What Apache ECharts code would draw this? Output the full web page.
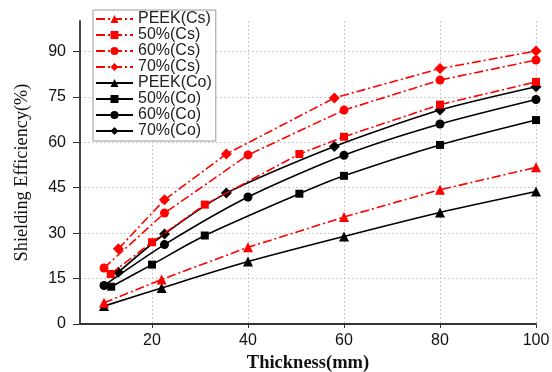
<!DOCTYPE html>
<html><head><meta charset="utf-8">
<script src="https://cdn.jsdelivr.net/npm/echarts@6/dist/echarts.min.js"></script>
<style>html,body{margin:0;padding:0;background:#fff}#c{width:552px;height:372px}</style>
</head><body><div id="c"></div>
<script>
const seriesNames = ['PEEK(Cs)','50%(Cs)','60%(Cs)','70%(Cs)','PEEK(Co)','50%(Co)','60%(Co)','70%(Co)'];
const peekCsX = [10, 22, 40, 60, 80, 100];
const peekCsY = [7.0, 14.7, 25.3, 35.3, 44.3, 51.7];
const p50CsX = [11.4, 20, 31, 50.7, 60, 80, 100];
const p50CsY = [16.5, 27.0, 39.4, 56.1, 61.8, 72.4, 79.9];
const p60CsX = [10, 22.6, 40, 60, 80, 100];
const p60CsY = [18.5, 36.6, 55.8, 70.6, 80.5, 87.1];
const p70CsX = [13, 22.6, 35.5, 58, 80, 100];
const p70CsY = [24.8, 41.0, 56.1, 74.6, 84.3, 90.1];
const peekCoX = [10, 22, 40, 60, 80, 100];
const peekCoY = [5.9, 11.9, 20.6, 28.9, 36.8, 43.7];
const p50CoX = [11.5, 20, 31, 50.7, 60, 80, 100];
const p50CoY = [12.3, 19.6, 29.2, 43.0, 48.9, 59.1, 67.3];
const p60CoX = [10, 22.6, 40, 60, 80, 100];
const p60CoY = [12.7, 26.2, 41.9, 55.7, 66.0, 74.1];
const p70CoX = [13, 22.6, 35.5, 58, 80, 100];
const p70CoY = [17.1, 29.7, 43.2, 58.6, 70.6, 78.3];
const xTicks = [20, 40, 60, 80, 100];
const yTicks = [0, 15, 30, 45, 60, 75, 90];

const xsAll = [peekCsX, p50CsX, p60CsX, p70CsX, peekCoX, p50CoX, p60CoX, p70CoX];
const ysAll = [peekCsY, p50CsY, p60CsY, p70CsY, peekCoY, p50CoY, p60CoY, p70CoY];
const symbols = ['triangle','rect','circle','diamond','triangle','rect','circle','diamond'];
const sizes = [10, 8, 9, 11, 10, 8, 9, 11];

const series = seriesNames.map((name, i) => {
  const red = i < 4;
  const col = red ? '#ff0000' : '#000000';
  return {
    name, type: 'line',
    data: xsAll[i].map((x, j) => [x, ysAll[i][j]]),
    symbol: symbols[i], symbolSize: sizes[i],
    smooth: red ? false : 0.25,
    itemStyle: { color: col },
    lineStyle: { color: col, width: 1.6, type: red ? [9, 3, 2, 3] : 'solid' },
    z: red ? 3 : 2
  };
});

const chart = echarts.init(document.getElementById('c'), null, { renderer: 'canvas' });
chart.setOption({
  animation: false,
  backgroundColor: '#fff',
  grid: { left: 80, right: 16, top: 21, bottom: 48, containLabel: false, outerBoundsMode: 'none' },
  legend: {
    data: seriesNames, orient: 'vertical', left: 93, top: 10,
    itemWidth: 37, itemHeight: 10, itemGap: 0,
    padding: [1, 4, 2, 2],
    backgroundColor: '#fff', borderColor: '#999', borderWidth: 1,
    textStyle: { fontFamily: 'Liberation Sans, Arial', fontSize: 16, lineHeight: 15.6, color: '#222' }
  },
  xAxis: {
    type: 'value', min: 5, max: 100,
    name: 'Thickness(mm)', nameLocation: 'middle', nameGap: 30,
    nameTextStyle: { fontFamily: 'Liberation Serif, Times New Roman', fontSize: 18.5, fontWeight: 'bold', color: '#111' },
    axisLine: { show: true, lineStyle: { color: '#333', width: 1.8 } },
    axisTick: { show: true, customValues: xTicks, length: 4, lineStyle: { color: '#333' } },
    axisLabel: { customValues: xTicks, fontFamily: 'Liberation Sans, Arial', fontSize: 16, color: '#111', margin: 9 },
    splitLine: { show: true, lineStyle: { color: '#ccc', type: [2, 2], width: 1 } }
  },
  yAxis: {
    type: 'value', min: 0, max: 100,
    name: 'Shielding Efficiency(%)', nameLocation: 'middle', nameGap: 49,
    nameTextStyle: { fontFamily: 'Liberation Serif, Times New Roman', fontSize: 18.3, color: '#111' },
    axisLine: { show: true, lineStyle: { color: '#333', width: 1.8 } },
    axisTick: { show: true, customValues: yTicks, length: 7, lineStyle: { color: '#333' } },
    axisLabel: { customValues: yTicks, fontFamily: 'Liberation Sans, Arial', fontSize: 16, color: '#111', margin: 14 },
    splitLine: { show: true, lineStyle: { color: '#ccc', type: [2, 2], width: 1 } }
  },
  series
});
</script></body></html>
